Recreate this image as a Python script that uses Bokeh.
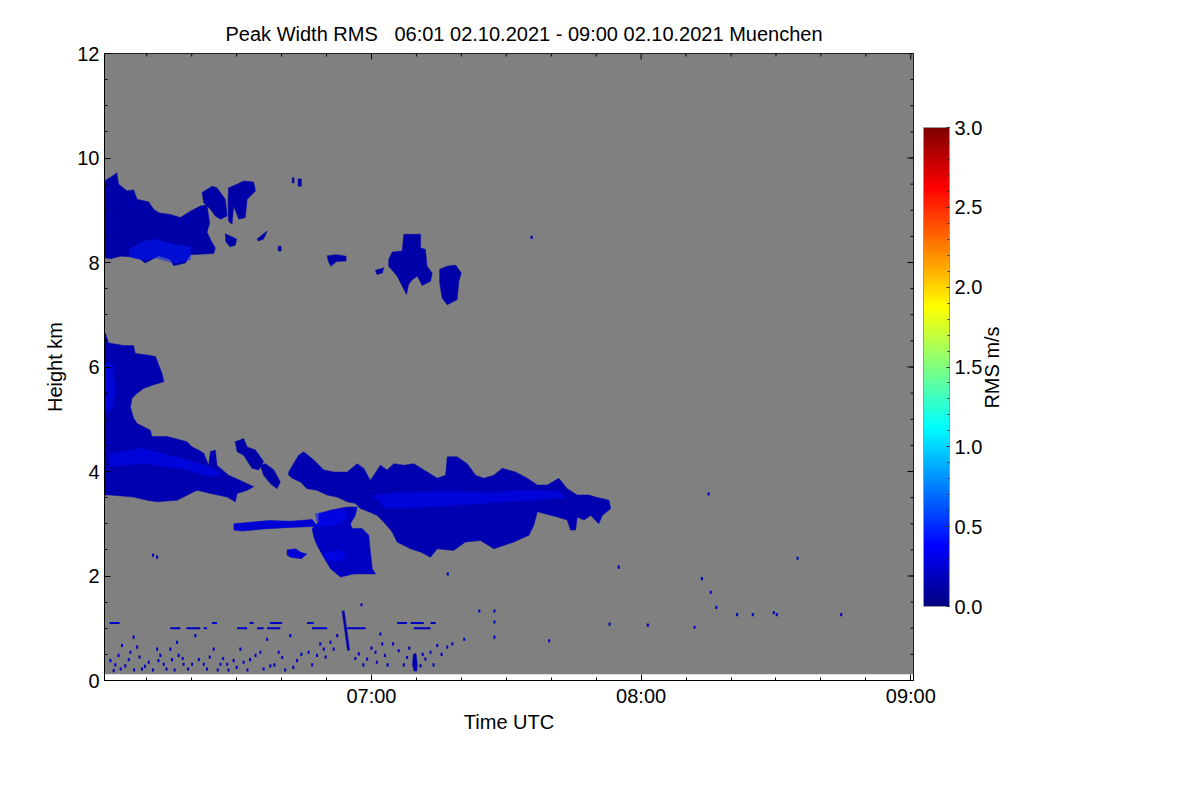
import math
from bokeh.plotting import figure
from bokeh.models import (Range1d, FixedTicker, ColorBar, LinearColorMapper,
                          Label, ColumnDataSource, PrintfTickFormatter)
from bokeh.embed import file_html
from bokeh.resources import INLINE

# ---------------- data (time in decimal hours UTC, height in km, RMS in m/s) -------------
TITLE = "Peak Width RMS\u00a0\u00a0\u00a006:01 02.10.2021 - 09:00 02.10.2021 Muenchen"
T_START, T_END = 6.01, 9.01           # time span of the measurement
FIRST_GATE_KM, TOP_KM = 0.12, 12.0     # lowest / highest range gate

TIME_TICKS = [7.0, 8.0, 9.0]
TIME_LABELS = ["07:00", "08:00", "09:00"]
HEIGHT_TICKS = [0, 2, 4, 6, 8, 10, 12]
RMS_TICKS = [0.0, 0.5, 1.0, 1.5, 2.0, 2.5, 3.0]
RMS_LOW, RMS_HIGH = 0.0, 3.0

# cloud outlines (time h, height km)
cirrus_a = [(6.01, 9.56), (6.044, 9.67), (6.056, 9.72), (6.062, 9.50), (6.094, 9.37), (6.118, 9.39),
            (6.131, 9.21), (6.174, 9.16), (6.192, 9.02), (6.211, 8.95), (6.254, 8.92), (6.291, 8.86),
            (6.328, 8.98), (6.365, 9.08), (6.39, 9.10), (6.40, 8.75), (6.39, 8.58), (6.409, 8.38),
            (6.421, 8.28), (6.415, 8.17), (6.328, 8.15), (6.31, 7.99), (6.266, 7.94), (6.254, 8.06),
            (6.211, 8.13), (6.161, 7.99), (6.143, 8.06), (6.106, 8.11), (6.069, 8.12), (6.032, 8.07),
            (6.01, 8.09)]
cirrus_b1 = [(6.372, 9.34), (6.409, 9.46), (6.427, 9.43), (6.458, 9.21), (6.465, 8.89), (6.44, 8.83),
             (6.421, 8.89), (6.403, 9.02), (6.378, 9.14)]
cirrus_b2 = [(6.47, 9.43), (6.502, 9.50), (6.526, 9.56), (6.563, 9.54), (6.57, 9.37), (6.539, 9.21),
             (6.532, 8.86), (6.508, 8.83), (6.489, 9.08), (6.483, 8.73), (6.47, 8.79), (6.468, 9.14)]
cirrus_c1 = [(6.458, 8.55), (6.48, 8.50), (6.50, 8.45), (6.495, 8.33), (6.475, 8.30), (6.46, 8.40)]
cirrus_c2 = [(6.576, 8.45), (6.60, 8.55), (6.613, 8.60), (6.60, 8.45), (6.58, 8.41)]
cirrus_c3 = [(6.654, 8.31), (6.665, 8.31), (6.665, 8.22), (6.654, 8.22)]
cirrus_c4a = [(6.706, 9.62), (6.713, 9.62), (6.713, 9.52), (6.706, 9.52)]
cirrus_c4b = [(6.728, 9.60), (6.74, 9.60), (6.74, 9.46), (6.728, 9.46)]
cirrus_c5 = [(6.836, 8.13), (6.87, 8.15), (6.906, 8.12), (6.906, 8.03), (6.87, 8.02), (6.85, 7.93), (6.84, 8.02)]
cirrus_c6 = [(7.015, 7.85), (7.046, 7.90), (7.04, 7.80), (7.02, 7.77)]
cirrus_d = [(7.064, 8.06), (7.077, 8.20), (7.114, 8.22), (7.12, 8.54), (7.182, 8.54), (7.182, 8.28),
            (7.20, 8.25), (7.206, 7.93), (7.225, 7.80), (7.219, 7.64), (7.188, 7.56), (7.17, 7.74),
            (7.151, 7.67), (7.138, 7.58), (7.13, 7.39), (7.114, 7.55), (7.095, 7.74), (7.064, 7.93)]
cirrus_e = [(7.253, 7.87), (7.281, 7.93), (7.312, 7.95), (7.333, 7.80), (7.324, 7.64), (7.318, 7.29),
            (7.281, 7.19), (7.262, 7.32), (7.253, 7.61)]
mid_f = [(6.01, 6.55), (6.013, 6.65), (6.025, 6.46), (6.081, 6.41), (6.118, 6.41), (6.124, 6.26),
         (6.168, 6.23), (6.199, 6.20), (6.211, 6.04), (6.223, 5.88), (6.23, 5.72), (6.192, 5.66),
         (6.155, 5.59), (6.131, 5.50), (6.112, 5.40), (6.106, 5.24), (6.118, 5.02), (6.131, 4.92),
         (6.18, 4.79), (6.186, 4.67), (6.242, 4.67), (6.316, 4.57), (6.335, 4.47), (6.359, 4.41),
         (6.378, 4.35), (6.396, 4.12), (6.403, 4.38), (6.421, 4.41), (6.427, 4.12), (6.47, 3.93),
         (6.526, 3.80), (6.563, 3.71), (6.539, 3.64), (6.502, 3.58), (6.495, 3.42), (6.465, 3.51),
         (6.403, 3.58), (6.353, 3.64), (6.279, 3.45), (6.205, 3.42), (6.168, 3.45), (6.118, 3.51),
         (6.032, 3.55), (6.01, 3.55)]
mid_g1 = [(6.495, 4.57), (6.526, 4.63), (6.539, 4.47), (6.57, 4.41), (6.60, 4.19), (6.582, 4.03),
          (6.557, 4.06), (6.526, 4.31), (6.502, 4.38)]
mid_g2 = [(6.588, 4.12), (6.607, 4.15), (6.638, 4.03), (6.662, 3.80), (6.65, 3.67), (6.625, 3.77), (6.60, 3.93)]
mid_h = [(6.693, 3.99), (6.73, 4.31), (6.749, 4.38), (6.786, 4.22), (6.823, 4.03), (6.86, 3.99),
         (6.91, 3.99), (6.947, 4.15), (6.971, 4.06), (6.996, 3.83), (7.033, 4.12), (7.058, 4.03),
         (7.083, 4.15), (7.12, 4.12), (7.157, 4.15), (7.207, 3.99), (7.244, 3.87), (7.275, 3.93),
         (7.281, 4.28), (7.318, 4.28), (7.355, 4.15), (7.386, 3.93), (7.417, 3.87), (7.454, 3.93),
         (7.485, 4.06), (7.534, 3.99), (7.578, 3.87), (7.615, 3.74), (7.652, 3.74), (7.695, 3.87),
         (7.726, 3.67), (7.763, 3.55), (7.806, 3.55), (7.831, 3.51), (7.881, 3.45), (7.887, 3.29),
         (7.856, 3.16), (7.843, 3.00), (7.813, 3.16), (7.788, 3.07), (7.763, 3.13), (7.757, 2.88),
         (7.738, 2.88), (7.726, 3.07), (7.689, 3.13), (7.615, 3.23), (7.602, 2.97), (7.584, 2.78),
         (7.553, 2.71), (7.528, 2.65), (7.454, 2.52), (7.404, 2.68), (7.348, 2.65), (7.305, 2.49),
         (7.244, 2.52), (7.219, 2.36), (7.182, 2.46), (7.145, 2.52), (7.095, 2.65), (7.077, 2.84),
         (7.046, 3.03), (7.021, 3.16), (6.99, 3.23), (6.959, 3.29), (6.94, 3.39), (6.91, 3.42),
         (6.872, 3.51), (6.835, 3.55), (6.798, 3.64), (6.761, 3.67), (6.737, 3.80), (6.706, 3.87),
         (6.693, 3.93)]
low_i = [(6.805, 3.19), (6.848, 3.26), (6.91, 3.32), (6.947, 3.32), (6.94, 3.16), (6.922, 3.00),
         (6.928, 2.91), (6.965, 2.91), (6.99, 2.78), (6.996, 2.46), (7.003, 2.14), (7.015, 2.04),
         (6.934, 2.04), (6.885, 1.98), (6.848, 2.14), (6.823, 2.36), (6.798, 2.59), (6.786, 2.75),
         (6.78, 2.91), (6.805, 3.03)]
low_j = [(6.49, 3.00), (6.55, 3.03), (6.62, 3.06), (6.70, 3.05), (6.78, 3.08), (6.80, 2.95),
         (6.70, 2.93), (6.60, 2.90), (6.52, 2.86), (6.49, 2.88)]
low_k = [(6.687, 2.50), (6.72, 2.52), (6.735, 2.46), (6.76, 2.42), (6.74, 2.33), (6.70, 2.36), (6.687, 2.40)]
slant_line = [(6.891, 1.33), (6.899, 1.33), (6.919, 0.58), (6.911, 0.58)]
ground_blob = [(7.155, 0.50), (7.165, 0.52), (7.17, 0.30), (7.168, 0.18), (7.158, 0.18), (7.152, 0.30)]
CLOUD_POLYS = [cirrus_a, cirrus_b1, cirrus_b2, cirrus_c1, cirrus_c2, cirrus_c3, cirrus_c4a, cirrus_c4b,
               cirrus_c5, cirrus_c6, cirrus_d, cirrus_e, mid_f, mid_g1, mid_g2, mid_h, low_i, low_j,
               low_k, slant_line, ground_blob]
CLOUD_RMS = [0.12, 0.12, 0.12, 0.12, 0.12, 0.12, 0.12, 0.12, 0.12, 0.12, 0.12, 0.12, 0.15, 0.12,
             0.12, 0.15, 0.2, 0.25, 0.25, 0.15, 0.15]

# areas of larger spread inside the clouds
streak_a = [(6.10, 8.25), (6.15, 8.40), (6.20, 8.45), (6.27, 8.35), (6.33, 8.30), (6.33, 8.05),
            (6.27, 7.98), (6.20, 8.08), (6.15, 8.05), (6.10, 8.10)]
streak_f1 = [(6.012, 6.10), (6.04, 6.05), (6.05, 5.60), (6.04, 5.20), (6.012, 5.10)]
streak_f2 = [(6.03, 4.35), (6.15, 4.45), (6.30, 4.25), (6.40, 4.10), (6.45, 3.95), (6.40, 3.90),
             (6.30, 4.05), (6.15, 4.15), (6.03, 4.10)]
streak_h = [(7.00, 3.55), (7.10, 3.60), (7.30, 3.62), (7.45, 3.60), (7.55, 3.65), (7.70, 3.62),
            (7.72, 3.50), (7.60, 3.45), (7.45, 3.40), (7.30, 3.35), (7.15, 3.30), (7.05, 3.30)]
streak_i1 = [(6.79, 3.20), (6.85, 3.25), (6.90, 3.28), (6.91, 3.10), (6.85, 2.95), (6.80, 2.95)]
streak_i2 = [(6.82, 2.45), (6.88, 2.50), (6.91, 2.40), (6.88, 2.28), (6.83, 2.30)]
STREAK_POLYS = [streak_a, streak_f1, streak_f2, streak_h, streak_i1, streak_i2]
STREAK_RMS = [0.45, 0.4, 0.4, 0.4, 0.4, 0.4]

# short horizontal echo segments near 1 km (start h, end h, height km)
dash_t0 = [6.029, 6.409, 6.548, 6.623, 6.761, 7.095, 7.145, 7.219,
           6.254, 6.314, 6.378, 6.502, 6.576, 6.613, 6.78, 6.91, 7.157]
dash_t1 = [6.066, 6.427, 6.563, 6.669, 6.786, 7.132, 7.194, 7.238,
           6.291, 6.365, 6.39, 6.539, 6.60, 6.662, 6.836, 6.978, 7.219]
dash_h = [1.10, 1.10, 1.10, 1.10, 1.10, 1.10, 1.10, 1.10,
          1.00, 1.00, 1.00, 1.00, 1.00, 1.00, 1.00, 1.00, 1.00]

# isolated single-gate echoes (time h, height km)
speckle = [(6.032, 0.38), (6.044, 0.19), (6.062, 0.48), (6.075, 0.67), (6.087, 0.28), (6.106, 0.54),
           (6.118, 0.83), (6.131, 0.64), (6.149, 0.22), (6.174, 0.35), (6.205, 0.60), (6.217, 0.48),
           (6.23, 0.31), (6.254, 0.60), (6.279, 0.73), (6.285, 0.48), (6.303, 0.31), (6.335, 0.31),
           (6.347, 0.86), (6.378, 0.31), (6.415, 0.60), (6.44, 0.31), (6.465, 0.31), (6.489, 0.38),
           (6.514, 0.60), (6.526, 0.35), (6.57, 0.48), (6.588, 0.54), (6.613, 0.79), (6.625, 0.28),
           (6.656, 0.54), (6.669, 0.44), (6.699, 0.86), (6.724, 0.38), (6.767, 0.54), (6.798, 0.48),
           (6.823, 0.60), (6.848, 0.73), (6.873, 0.86), (6.953, 0.51), (6.984, 0.41), (7.015, 0.54),
           (7.033, 0.89), (7.04, 0.70), (7.05, 0.48), (7.101, 0.57), (7.132, 0.44), (7.182, 0.28),
           (7.20, 0.41), (7.219, 0.54), (7.244, 0.67), (7.281, 0.64),
           (6.05, 0.30), (6.07, 0.22), (6.10, 0.40), (6.12, 0.20), (6.14, 0.45), (6.16, 0.27),
           (6.19, 0.20), (6.21, 0.38), (6.24, 0.22), (6.26, 0.40), (6.27, 0.20), (6.30, 0.42),
           (6.32, 0.22), (6.36, 0.40), (6.39, 0.22), (6.40, 0.45), (6.43, 0.20), (6.45, 0.42),
           (6.47, 0.20), (6.50, 0.25), (6.54, 0.20), (6.55, 0.40), (6.60, 0.22), (6.64, 0.30),
           (6.68, 0.20), (6.71, 0.25), (6.74, 0.50), (6.78, 0.30), (6.81, 0.70), (6.83, 0.45),
           (6.86, 0.60), (6.94, 0.42), (6.97, 0.30), (7.00, 0.62), (7.02, 0.35), (7.06, 0.30),
           (7.08, 0.70), (7.12, 0.30), (7.14, 0.62), (7.19, 0.50), (7.23, 0.30), (7.26, 0.50),
           (7.30, 0.70), (6.19, 2.40), (6.205, 2.36), (6.963, 1.45),
           (7.917, 2.17), (8.225, 1.95), (8.258, 1.69), (8.279, 1.40), (8.356, 1.26), (8.414, 1.26),
           (8.492, 1.30), (8.503, 1.26), (8.742, 1.26), (7.883, 1.08), (8.025, 1.06), (8.198, 1.02),
           (7.659, 0.76), (7.456, 0.83), (7.344, 0.79), (7.283, 2.04), (7.40, 1.33), (7.456, 1.33),
           (7.456, 1.12), (8.58, 2.34), (8.25, 3.57), (7.594, 8.48)]
SPECKLE_RMS = 0.2

# ---------------- styling ----------------
FONT = "Liberation Sans"
FS = "20px"
GRAY = "#808080"
W, H = 1200, 800


def jet(n=256):
    out = []
    for i in range(n):
        f = i / (n - 1)
        r = min(1.0, max(0.0, 1.5 - abs(4 * f - 3)))
        g = min(1.0, max(0.0, 1.5 - abs(4 * f - 2)))
        b = min(1.0, max(0.0, 1.5 - abs(4 * f - 1)))
        out.append("#%02x%02x%02x" % (round(r * 255), round(g * 255), round(b * 255)))
    return out


mapper = LinearColorMapper(palette=jet(), low=RMS_LOW, high=RMS_HIGH)

p = figure(width=W, height=H, x_range=Range1d(T_START, T_END), y_range=Range1d(0, TOP_KM),
           output_backend="svg", toolbar_location=None,
           min_border_left=104, min_border_right=W - 913, min_border_top=53, min_border_bottom=H - 680)
p.grid.visible = False
p.background_fill_color = "white"
p.border_fill_color = "white"
p.outline_line_color = "black"
p.outline_line_width = 1

# no-signal background field
p.quad(left=[T_START], right=[T_END], bottom=[FIRST_GATE_KM], top=[TOP_KM],
       fill_color=GRAY, line_color=None)


def poly_source(polys, vals):
    return ColumnDataSource(dict(xs=[[pt[0] for pt in poly] for poly in polys],
                                 ys=[[pt[1] for pt in poly] for poly in polys],
                                 v=list(vals)))


p.patches("xs", "ys", source=poly_source(CLOUD_POLYS, CLOUD_RMS),
          fill_color={"field": "v", "transform": mapper}, line_color={"field": "v", "transform": mapper},
          line_width=0.5)
p.patches("xs", "ys", source=poly_source(STREAK_POLYS, STREAK_RMS),
          fill_color={"field": "v", "transform": mapper}, line_color=None, fill_alpha=0.5)

dash_src = ColumnDataSource(dict(l=dash_t0, r=dash_t1, b=[h - 0.02 for h in dash_h],
                                 t=[h + 0.02 for h in dash_h], v=[SPECKLE_RMS] * len(dash_h)))
p.quad(left="l", right="r", bottom="b", top="t", source=dash_src,
       fill_color={"field": "v", "transform": mapper}, line_color=None)

sp_src = ColumnDataSource(dict(x=[s[0] for s in speckle], y=[s[1] for s in speckle],
                               v=[SPECKLE_RMS] * len(speckle)))
p.rect(x="x", y="y", width=0.0075, height=0.06, source=sp_src,
       fill_color={"field": "v", "transform": mapper}, line_color=None)

# ---------------- axes ----------------
minor_t = [6 + k / 6 for k in range(1, 18) if k % 6 != 0]
minor_h = [k * 0.5 for k in range(0, 25)]


def style_axis(ax):
    ax.axis_line_color = "black"
    ax.major_tick_line_color = "black"
    ax.minor_tick_line_color = "black"
    ax.major_tick_in = 6
    ax.major_tick_out = 0
    ax.minor_tick_in = 3
    ax.minor_tick_out = 0
    ax.major_label_text_font = FONT
    ax.major_label_text_color = "black"
    ax.major_label_text_font_size = FS
    ax.axis_label_text_font = FONT
    ax.axis_label_text_font_size = FS
    ax.axis_label_text_font_style = "normal"
    ax.axis_label_text_color = "black"


xa = p.xaxis[0]
xa.ticker = FixedTicker(ticks=TIME_TICKS, minor_ticks=minor_t)
xa.major_label_overrides = {t: s for t, s in zip(TIME_TICKS, TIME_LABELS)}
xa.axis_label = "Time UTC"
style_axis(xa)
xa.major_label_standoff = 4
xa.axis_label_standoff = 1

ya = p.yaxis[0]
ya.ticker = FixedTicker(ticks=HEIGHT_TICKS, minor_ticks=minor_h)
ya.axis_label = "Height km"
style_axis(ya)
ya.major_label_standoff = 5
ya.axis_label_standoff = 8

# mirrored inward ticks on the top and right edges of the frame
p.ray(x=TIME_TICKS, y=[TOP_KM] * len(TIME_TICKS), length=6, length_units="screen",
      angle=-math.pi / 2, line_color="black", line_width=1)
p.ray(x=minor_t, y=[TOP_KM] * len(minor_t), length=3, length_units="screen",
      angle=-math.pi / 2, line_color="black", line_width=1)
p.ray(x=[T_END] * len(HEIGHT_TICKS), y=HEIGHT_TICKS, length=6, length_units="screen",
      angle=math.pi, line_color="black", line_width=1)
p.ray(x=[T_END] * len(minor_h), y=minor_h, length=3, length_units="screen",
      angle=math.pi, line_color="black", line_width=1)

# ---------------- title ----------------
p.title.text = TITLE
p.title.text_font = FONT
p.title.text_font_size = FS
p.title.text_font_style = "normal"
p.title.text_color = "black"
p.title.align = "left"
p.title.offset = 121
p.title.standoff = 18

# ---------------- colour bar ----------------
cb_minor = [k / 10 for k in range(0, 31)]
cb = ColorBar(color_mapper=mapper, width=26, height=479, location=(10, 74), padding=0,
              ticker=FixedTicker(ticks=RMS_TICKS, minor_ticks=cb_minor),
              formatter=PrintfTickFormatter(format="%.1f"),
              major_label_text_font=FONT, major_label_text_font_size=FS, major_label_text_color="black",
              label_standoff=5, major_tick_line_color="#333333", major_tick_in=3, major_tick_out=0,
              minor_tick_line_color="#333333", minor_tick_in=2, minor_tick_out=0,
              bar_line_color="#999999", bar_line_width=1, border_line_color=None,
              background_fill_color=None)
p.add_layout(cb, "right")

cb_label = Label(x=6, y=313, x_units="screen", y_units="screen", text="RMS m/s",
                 angle=math.pi / 2, text_align="center", text_baseline="middle",
                 text_font=FONT, text_font_size=FS, text_color="black")
p.add_layout(cb_label, "right")

open("out.html", "w").write(file_html(p, INLINE))
